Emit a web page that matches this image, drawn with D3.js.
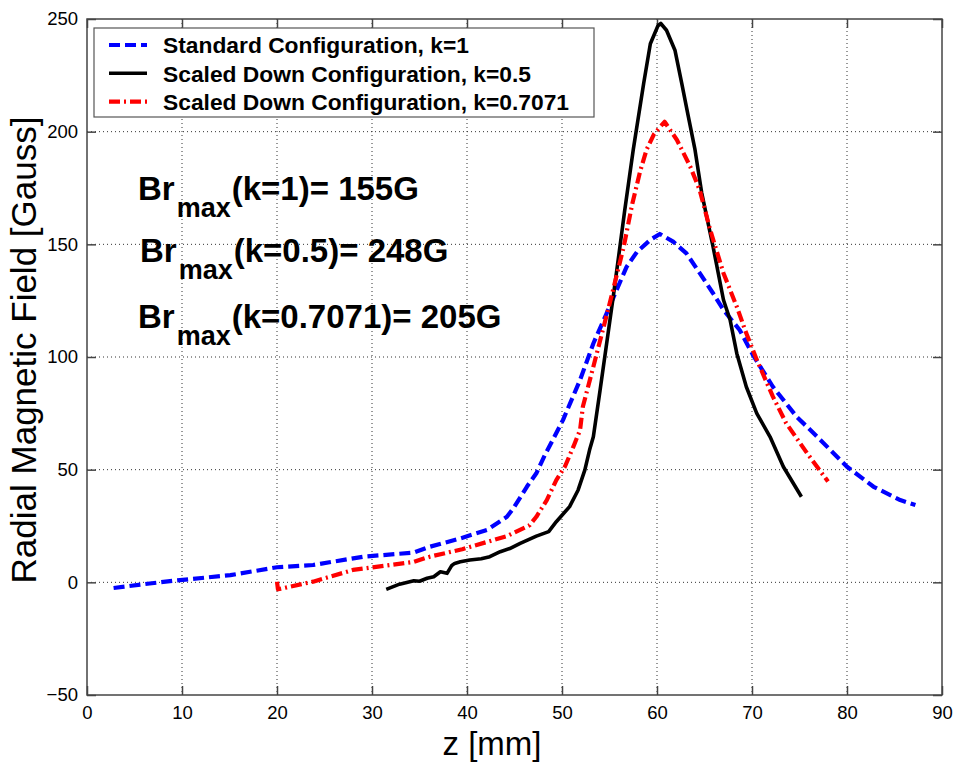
<!DOCTYPE html>
<html>
<head>
<meta charset="utf-8">
<script src="https://cdn.jsdelivr.net/npm/d3@7"></script>
<style>
  html, body { margin: 0; padding: 0; background: #fff; }
  svg { display: block; font-family: "Liberation Sans", Arial, sans-serif; }
</style>
</head>
<body>
<svg id="chart" width="956" height="762"></svg>
<script>
// ---- data ----
const xTicks = [0, 10, 20, 30, 40, 50, 60, 70, 80, 90];
const yTicks = [-50, 0, 50, 100, 150, 200, 250];

const zStd = [2.8, 6.6, 9.8, 15.1, 20, 23.8, 29.1, 34.4, 36.1, 39.3, 42.1, 44.2, 44.9, 46.3, 47.3, 48.2, 49.2, 50.1, 51.9, 53.3, 54.7, 55.9, 56.8, 57.9, 59.3, 60.3, 61.7, 63.1, 64.5, 65.9, 67, 68.7, 70.1, 72.2, 74.7, 77.2, 80, 82.8, 85.6, 87.2];
const bStd = [-2.5, -0.5, 1, 3.2, 6.7, 7.7, 11.4, 13.2, 15.8, 19.5, 23.2, 29.1, 33, 42.4, 48.4, 56.5, 64.6, 72, 89.8, 106, 119.4, 131.2, 140, 146.7, 152, 154.6, 151.2, 146, 137.2, 128.3, 120.9, 112, 100.9, 86.8, 73.5, 63.2, 51.3, 42.4, 36.5, 34.3];

const zHalf = [31.5, 32.9, 34.4, 35, 35.8, 36.5, 37.2, 37.9, 38.4, 38.7, 39.3, 40.3, 41.5, 42.4, 43.5, 44.5, 45.6, 47.3, 48.6, 49.4, 50.8, 51.7, 52.4, 52.9, 53.3, 54, 54.7, 55.4, 56.1, 56.6, 57.1, 57.5, 58.6, 59.3, 60.1, 60.4, 61, 61.9, 62.6, 63.3, 64, 64.7, 65.9, 67, 67.7, 68.4, 69.4, 70.5, 71.9, 73.3, 75.2];
const bHalf = [-3.1, -0.8, 0.7, 0.5, 1.8, 2.5, 4.7, 4.0, 7.5, 8.4, 9.1, 9.9, 10.5, 11.4, 13.6, 15, 17.3, 20.5, 22.5, 26.9, 33.6, 41, 49.8, 58.7, 64.6, 85, 106, 127, 149, 165, 180, 192, 221.5, 239, 247, 248, 245, 236, 221.5, 206.7, 192, 173, 149, 125.3, 116.4, 101.6, 86.8, 75, 64.6, 51.3, 38];

const zRoot = [20, 20.1, 23.8, 28, 34.4, 36.1, 39.5, 44.2, 46.6, 47.3, 48.4, 49.4, 50.3, 51.2, 51.9, 52.2, 53.3, 54.3, 55.2, 56.5, 57.4, 58.2, 58.9, 59.7, 60.8, 62.1, 63.5, 64.5, 65.6, 67, 68.4, 69.4, 70.5, 72.2, 73.6, 75.8, 78];
const bRoot = [0.3, -3.1, 0.3, 5.5, 9.1, 11.4, 14.7, 20.5, 25.4, 29.1, 36.5, 45.4, 51.3, 60.2, 67.6, 78, 95.7, 112, 126.8, 149, 168, 182, 192, 199, 204.4, 196.3, 184.5, 174, 156.4, 137.2, 122.3, 110.5, 98.8, 82.4, 70.6, 57.3, 44.7];

const seriesNames = ["Standard Configuration, k=1", "Scaled Down Configuration, k=0.5", "Scaled Down Configuration, k=0.7071"];
const seriesZ = [zStd, zHalf, zRoot];
const seriesB = [bStd, bHalf, bRoot];
const seriesColors = ["#0000ff", "#000000", "#ff0000"];
const seriesDash = ["11,5", null, "11,4,2,4"];
const seriesWidth = [4.2, 3.6, 4.2];

const annoMain = ["Br", "Br", "Br"];
const annoSub = ["max", "max", "max"];
const annoRest = ["(k=1)= 155G", "(k=0.5)= 248G", "(k=0.7071)= 205G"];

// ---- layout ----
const svg = d3.select("#chart");
const m = { left: 87, top: 19, right: 14, bottom: 67 };
const W = 956 - m.left - m.right;   // 855
const H = 762 - m.top - m.bottom;   // 676
const g = svg.append("g").attr("transform", `translate(${m.left},${m.top})`);

const x = d3.scaleLinear().domain([0, 90]).range([0, W]);
const y = d3.scaleLinear().domain([-50, 250]).range([H, 0]);

// grid
g.append("g").selectAll("line").data(xTicks.slice(1, -1)).join("line")
  .attr("x1", d => x(d)).attr("x2", d => x(d)).attr("y1", 0).attr("y2", H)
  .attr("stroke", "#333").attr("stroke-width", 1).attr("stroke-dasharray", "1,3");
g.append("g").selectAll("line").data(yTicks.slice(1, -1)).join("line")
  .attr("y1", d => y(d)).attr("y2", d => y(d)).attr("x1", 0).attr("x2", W)
  .attr("stroke", "#333").attr("stroke-width", 1).attr("stroke-dasharray", "1,3");

// axes
const axCol = "#444";
function styleAxis(sel) {
  sel.select(".domain").remove();
  sel.selectAll(".tick line").attr("stroke", axCol).attr("stroke-width", 1.5);
  sel.selectAll("text").attr("fill", "#000").style("font-size", "18.5px")
     .style("font-family", '"Liberation Sans", Arial, sans-serif');
}
g.append("g").attr("transform", `translate(0,${H})`)
  .call(d3.axisBottom(x).tickValues(xTicks).tickSizeInner(-9).tickSizeOuter(0).tickPadding(11))
  .call(styleAxis);
g.append("g")
  .call(d3.axisLeft(y).tickValues(yTicks).tickSizeInner(-9).tickSizeOuter(0).tickPadding(9))
  .call(styleAxis);
g.append("g")
  .call(d3.axisTop(x).tickValues(xTicks).tickSizeInner(-9).tickSizeOuter(0).tickFormat(""))
  .call(styleAxis);
g.append("g").attr("transform", `translate(${W},0)`)
  .call(d3.axisRight(y).tickValues(yTicks).tickSizeInner(-9).tickSizeOuter(0).tickFormat(""))
  .call(styleAxis);

g.append("rect").attr("x", 0).attr("y", 0).attr("width", W).attr("height", H)
  .attr("fill", "none").attr("stroke", axCol).attr("stroke-width", 1.5);

// lines
const line = d3.line().x(d => x(d[0])).y(d => y(d[1]));
seriesZ.forEach((zs, i) => {
  const pts = zs.map((z, j) => [z, seriesB[i][j]]);
  g.append("path").datum(pts)
    .attr("d", line)
    .attr("fill", "none")
    .attr("stroke", seriesColors[i])
    .attr("stroke-width", seriesWidth[i])
    .attr("stroke-linejoin", "round")
    .attr("stroke-dasharray", seriesDash[i]);
});

// annotations
const annoX = [138 - m.left, 140 - m.left, 138 - m.left];
const annoY = [200 - m.top, 262 - m.top, 328 - m.top];
annoMain.forEach((t, i) => {
  const tx = g.append("text").attr("x", annoX[i]).attr("y", annoY[i])
    .style("font-weight", "bold").style("font-size", "33px").attr("fill", "#000");
  tx.append("tspan").text(t);
  tx.append("tspan").attr("dx", 2).attr("dy", 17).style("font-size", "27px").text(annoSub[i]);
  tx.append("tspan").attr("dx", 1).attr("dy", -17).text(annoRest[i]);
});

// legend
const lg = g.append("g").attr("transform", `translate(${94 - m.left},${28 - m.top})`);
lg.append("rect").attr("x", 0).attr("y", 0).attr("width", 500).attr("height", 89)
  .attr("fill", "#fff").attr("stroke", "#555").attr("stroke-width", 1.2);
seriesNames.forEach((name, i) => {
  const cy = 17 + i * 28.3;
  lg.append("line").attr("x1", 15).attr("x2", 53).attr("y1", cy).attr("y2", cy)
    .attr("stroke", seriesColors[i]).attr("stroke-width", seriesWidth[i])
    .attr("stroke-dasharray", seriesDash[i]);
  lg.append("text").attr("x", 69).attr("y", cy).attr("dy", "0.36em")
    .style("font-weight", "bold").style("font-size", "22.8px").attr("fill", "#000").text(name);
});

// axis titles
svg.append("text").attr("x", 492).attr("y", 755).attr("text-anchor", "middle")
  .style("font-size", "33px").attr("fill", "#000").text("z [mm]");
svg.append("text").attr("transform", `translate(36,${350}) rotate(-90)`).attr("text-anchor", "middle")
  .style("font-size", "35px").attr("fill", "#000").text("Radial Magnetic Field [Gauss]");
</script>
</body>
</html>
